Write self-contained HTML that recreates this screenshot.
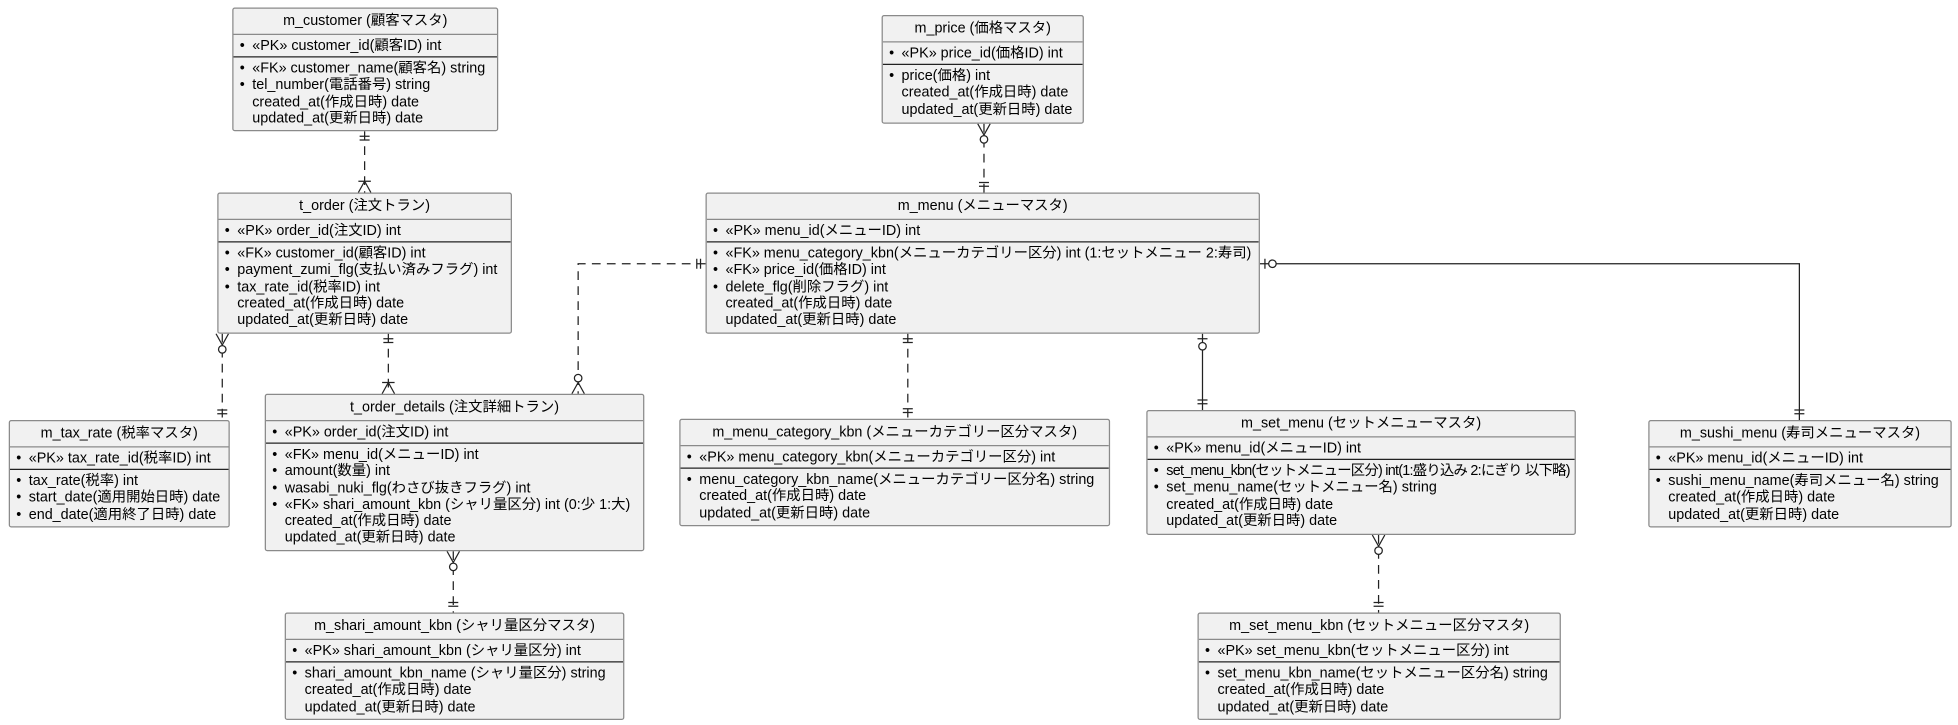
<!DOCTYPE html>
<html><head><meta charset="utf-8"><style>
html,body{margin:0;padding:0;background:#fff;width:1958px;height:725px;overflow:hidden}
#w{position:absolute;left:0;top:0;width:1568px;height:580px;transform:scale(1.2487,1.25);transform-origin:0 0}
svg{position:absolute;left:0;top:0}
.box{position:absolute;background:#f1f1f1;border:1px solid #8a8a8a;border-radius:2px;box-sizing:border-box;font:11.5px "Liberation Sans","Noto Sans CJK JP",sans-serif;color:#000;overflow:hidden}
.t{height:20px;line-height:21px;text-align:center;border-bottom:1px solid #8a8a8a;white-space:nowrap}
.pk{height:18px;box-sizing:border-box;padding-top:2.5px;border-bottom:1.5px solid #222}
.rest{padding-top:3px}
.r{position:relative;padding-left:15px;white-space:nowrap;line-height:13.3px;height:13.3px}
.b::before{content:"•";position:absolute;left:5px}
.n{letter-spacing:-0.6px}
</style></head><body><div id="w">
<svg width="1568" height="580" viewBox="0 0 1568 580" fill="none" stroke="#222" stroke-width="1">
<g stroke-dasharray="7,5">
<path d="M292,105V154"/><path d="M178,267V336"/><path d="M311,267V315"/>
<path d="M565,211H463V315"/><path d="M788,99V154"/><path d="M727,267V335"/>
<path d="M363,441V490"/><path d="M1104,428V490"/>
</g>
<path d="M963,267V328"/><path d="M1009,211H1441V336"/>
<g>
<path d="M288,109h8M288,112h8"/><path d="M287,154L292,145L297,154M287,145h10"/>
<path d="M173,267L178,276L183,267"/><circle cx="178" cy="279.5" r="3" fill="#fff"/><path d="M174,328h8M174,331h8"/>
<path d="M307,271h8M307,274h8"/><path d="M306,315L311,306L316,315M306,306h10"/>
<path d="M558,207v8M561,207v8"/><path d="M458,315L463,306L468,315"/><circle cx="463" cy="302.5" r="3" fill="#fff"/>
<path d="M783,99L788,108L793,99"/><circle cx="788" cy="111.5" r="3" fill="#fff"/><path d="M784,146h8M784,149h8"/>
<path d="M723,271h8M723,274h8M723,327h8M723,330h8"/>
<path d="M959,271h8"/><circle cx="963" cy="277" r="3" fill="#fff"/><path d="M959,320h8M959,323h8"/>
<path d="M1013,207v8"/><circle cx="1019" cy="211" r="3" fill="#fff"/><path d="M1437,328h8M1437,331h8"/>
<path d="M358,441L363,450L368,441"/><circle cx="363" cy="453.5" r="3" fill="#fff"/><path d="M359,482h8M359,485h8"/>
<path d="M1099,428L1104,437L1109,428"/><circle cx="1104" cy="440.5" r="3" fill="#fff"/><path d="M1100,482h8M1100,485h8"/>
</g>
</svg>

<div class="box" style="left:186px;top:6px;width:213px;height:99px"><div class="t">m_customer (顧客マスタ)</div><div class="pk"><div class="r b">«PK» customer_id(顧客ID) int</div></div><div class="rest"><div class="r b">«FK» customer_name(顧客名) string</div><div class="r b">tel_number(電話番号) string</div><div class="r">created_at(作成日時) date</div><div class="r">updated_at(更新日時) date</div></div></div>

<div class="box" style="left:174px;top:154px;width:236px;height:113px"><div class="t">t_order (注文トラン)</div><div class="pk"><div class="r b">«PK» order_id(注文ID) int</div></div><div class="rest"><div class="r b">«FK» customer_id(顧客ID) int</div><div class="r b">payment_zumi_flg(支払い済みフラグ) int</div><div class="r b">tax_rate_id(税率ID) int</div><div class="r">created_at(作成日時) date</div><div class="r">updated_at(更新日時) date</div></div></div>

<div class="box" style="left:7px;top:336px;width:177px;height:86px"><div class="t">m_tax_rate (税率マスタ)</div><div class="pk"><div class="r b">«PK» tax_rate_id(税率ID) int</div></div><div class="rest"><div class="r b">tax_rate(税率) int</div><div class="r b">start_date(適用開始日時) date</div><div class="r b">end_date(適用終了日時) date</div></div></div>

<div class="box" style="left:212px;top:315px;width:304px;height:126px"><div class="t">t_order_details (注文詳細トラン)</div><div class="pk"><div class="r b">«PK» order_id(注文ID) int</div></div><div class="rest"><div class="r b">«FK» menu_id(メニューID) int</div><div class="r b">amount(数量) int</div><div class="r b">wasabi_nuki_flg(わさび抜きフラグ) int</div><div class="r b">«FK» shari_amount_kbn (シャリ量区分) int (0:少 1:大)</div><div class="r">created_at(作成日時) date</div><div class="r">updated_at(更新日時) date</div></div></div>

<div class="box" style="left:228px;top:490px;width:272px;height:86px"><div class="t">m_shari_amount_kbn (シャリ量区分マスタ)</div><div class="pk"><div class="r b">«PK» shari_amount_kbn (シャリ量区分) int</div></div><div class="rest"><div class="r b">shari_amount_kbn_name (シャリ量区分) string</div><div class="r">created_at(作成日時) date</div><div class="r">updated_at(更新日時) date</div></div></div>

<div class="box" style="left:706px;top:12px;width:162px;height:87px"><div class="t">m_price (価格マスタ)</div><div class="pk"><div class="r b">«PK» price_id(価格ID) int</div></div><div class="rest"><div class="r b">price(価格) int</div><div class="r">created_at(作成日時) date</div><div class="r">updated_at(更新日時) date</div></div></div>

<div class="box" style="left:565px;top:154px;width:444px;height:113px"><div class="t">m_menu (メニューマスタ)</div><div class="pk"><div class="r b">«PK» menu_id(メニューID) int</div></div><div class="rest"><div class="r b">«FK» menu_category_kbn(メニューカテゴリー区分) int (1:セットメニュー 2:寿司)</div><div class="r b">«FK» price_id(価格ID) int</div><div class="r b">delete_flg(削除フラグ) int</div><div class="r">created_at(作成日時) date</div><div class="r">updated_at(更新日時) date</div></div></div>

<div class="box" style="left:544px;top:335px;width:345px;height:86px"><div class="t">m_menu_category_kbn (メニューカテゴリー区分マスタ)</div><div class="pk"><div class="r b">«PK» menu_category_kbn(メニューカテゴリー区分) int</div></div><div class="rest"><div class="r b">menu_category_kbn_name(メニューカテゴリー区分名) string</div><div class="r">created_at(作成日時) date</div><div class="r">updated_at(更新日時) date</div></div></div>

<div class="box" style="left:918px;top:328px;width:344px;height:100px"><div class="t">m_set_menu (セットメニューマスタ)</div><div class="pk"><div class="r b">«PK» menu_id(メニューID) int</div></div><div class="rest"><div class="r b n">set_menu_kbn(セットメニュー区分) int(1:盛り込み 2:にぎり 以下略)</div><div class="r b">set_menu_name(セットメニュー名) string</div><div class="r">created_at(作成日時) date</div><div class="r">updated_at(更新日時) date</div></div></div>

<div class="box" style="left:1320px;top:336px;width:243px;height:86px"><div class="t">m_sushi_menu (寿司メニューマスタ)</div><div class="pk"><div class="r b">«PK» menu_id(メニューID) int</div></div><div class="rest"><div class="r b">sushi_menu_name(寿司メニュー名) string</div><div class="r">created_at(作成日時) date</div><div class="r">updated_at(更新日時) date</div></div></div>

<div class="box" style="left:959px;top:490px;width:291px;height:86px"><div class="t">m_set_menu_kbn (セットメニュー区分マスタ)</div><div class="pk"><div class="r b">«PK» set_menu_kbn(セットメニュー区分) int</div></div><div class="rest"><div class="r b">set_menu_kbn_name(セットメニュー区分名) string</div><div class="r">created_at(作成日時) date</div><div class="r">updated_at(更新日時) date</div></div></div>
</div></body></html>
